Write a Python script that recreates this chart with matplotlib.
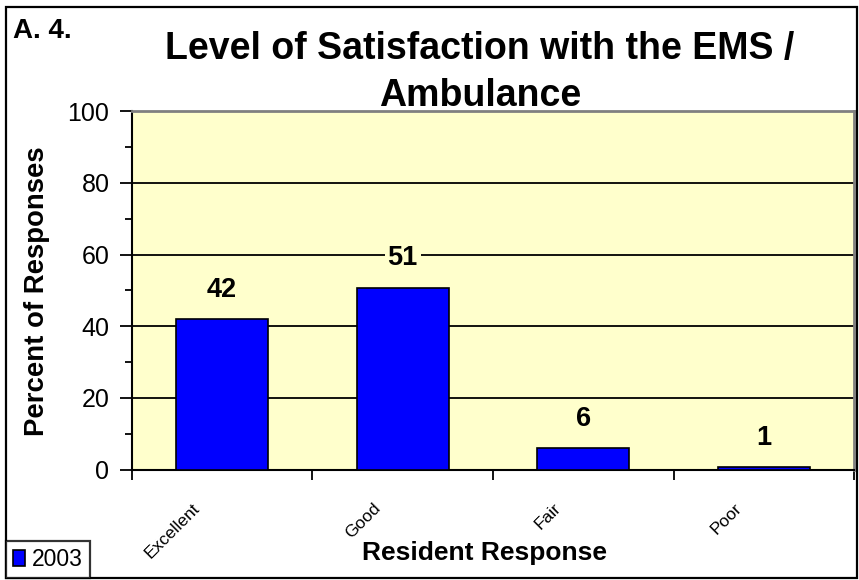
import matplotlib
matplotlib.use("Agg")
import matplotlib.pyplot as plt
from matplotlib.transforms import ScaledTranslation
from matplotlib.patches import Rectangle
import numpy as np

categories = ["Excellent", "Good", "Fair", "Poor"]
values = [42.1, 50.8, 5.9, 0.6]
series_name = "2003"
yticks = [0, 20, 40, 60, 80, 100]

plt.rcParams['font.family'] = ['Liberation Sans', 'DejaVu Sans']

W, H = 859, 580
fig = plt.figure(figsize=(W / 100, H / 100), dpi=100)
ax = fig.add_axes([131.7 / W, 1 - 469.5 / H, (854.3 - 131.7) / W, (469.5 - 111.3) / H])
ax.set_facecolor('#FFFFCC')

x = np.arange(len(categories))
bars = ax.bar(x, values, width=0.51, color='#0000FF', edgecolor='black', linewidth=1.2, zorder=3,
              label=series_name)

ax.set_xlim(-0.5, len(categories) - 0.5)
ax.set_ylim(0, 100)
ax.set_yticks(yticks)
ax.set_yticks(np.arange(10, 100, 20), minor=True)
ax.tick_params(axis='y', which='major', length=9, width=1.3, labelsize=18, pad=7, direction='out')
ax.tick_params(axis='y', which='minor', length=5, width=1.3, direction='out')

# x ticks: marks at category boundaries, labels at centers
ax.set_xticks(np.arange(-0.5, len(categories) + 0.5, 1))
ax.set_xticklabels([])
ax.set_xticks(x, minor=True)
ax.set_xticklabels(categories, minor=True, rotation=45, ha='right', va='center',
                   rotation_mode='anchor', fontsize=12.5)
ax.tick_params(axis='x', which='major', length=7, width=1.3, direction='out')
ax.tick_params(axis='x', which='minor', length=0, pad=0)
for lab in ax.get_xticklabels(minor=True):
    lab.set_transform(lab.get_transform() + ScaledTranslation(-0.25, -0.36, fig.dpi_scale_trans))

ax.grid(axis='y', which='major', color='black', linewidth=1.3, zorder=1)
ax.set_axisbelow(True)

for side in ['left', 'bottom']:
    ax.spines[side].set_color('black')
    ax.spines[side].set_linewidth(1.5)
for side in ['top', 'right']:
    ax.spines[side].set_color('#808080')
    ax.spines[side].set_linewidth(2)

for rect, v in zip(bars, values):
    ax.annotate(f"{v:.0f}", (rect.get_x() + rect.get_width() / 2, v),
                xytext=(0, 21), textcoords='offset points', ha='center', va='center',
                fontsize=19.5, fontweight='bold', zorder=4,
                bbox=dict(facecolor='#FFFFCC', edgecolor='none', pad=2))

fig.text(37 / W, 1 - 291 / H, "Percent of Responses", rotation=90, ha='center', va='center',
         fontsize=19.8, fontweight='bold')
fig.text(484 / W, 1 - 553 / H, "Resident Response", ha='center', va='center',
         fontsize=19, fontweight='bold')

fig.text(480 / W, 1 - 59 / H, "Level of Satisfaction with the EMS /", ha='center', va='baseline',
         fontsize=27, fontweight='bold')
fig.text(480 / W, 1 - 106 / H, "Ambulance", ha='center', va='baseline',
         fontsize=27, fontweight='bold')
fig.text(13 / W, 1 - 38 / H, "A. 4.", ha='left', va='baseline', fontsize=20, fontweight='bold')

# figure border
fig.patches.append(Rectangle((6 / W, 1 - 578 / H), (857 - 6) / W, (578 - 7) / H,
                             transform=fig.transFigure, fill=False, edgecolor='black',
                             linewidth=1.6))

leg = fig.legend(handles=[bars], labels=[series_name], loc='lower left',
                 bbox_to_anchor=(6 / W, 1 - 578 / H), frameon=True, fancybox=False,
                 fontsize=16.5, handlelength=0.55, handleheight=0.7, handletextpad=0.3,
                 borderpad=0.3, borderaxespad=0)
leg.get_frame().set_edgecolor('black')
leg.get_frame().set_linewidth(1.6)

fig.savefig("out.png", dpi=100)
